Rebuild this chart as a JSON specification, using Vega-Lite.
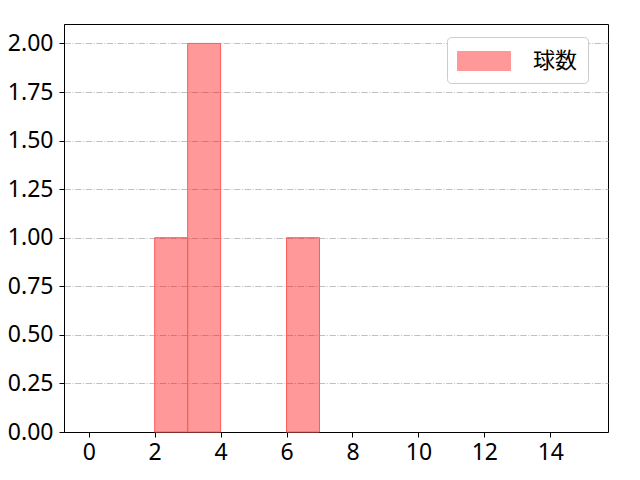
{
  "$schema": "https://vega.github.io/schema/vega-lite/v6.json",
  "width": 544,
  "height": 408,
  "autosize": {"type": "none"},
  "padding": {"left": 64, "top": 24, "right": 32, "bottom": 48},
  "data": {
    "values": [
      {"bin_start": 2, "bin_end": 3, "count": 1, "series": "球数"},
      {"bin_start": 3, "bin_end": 4, "count": 2, "series": "球数"},
      {"bin_start": 6, "bin_end": 7, "count": 1, "series": "球数"}
    ]
  },
  "mark": {
    "type": "rect",
    "fillOpacity": 0.4,
    "strokeOpacity": 1,
    "strokeWidth": 1
  },
  "encoding": {
    "x": {
      "field": "bin_start",
      "type": "quantitative",
      "scale": {"domain": [-0.75, 15.75], "nice": false, "zero": false},
      "axis": {"values": [0, 2, 4, 6, 8, 10, 12, 14], "grid": false, "title": null}
    },
    "x2": {"field": "bin_end"},
    "y": {
      "field": "count",
      "type": "quantitative",
      "scale": {"domain": [0, 2.1], "nice": false},
      "axis": {
        "values": [0, 0.25, 0.5, 0.75, 1, 1.25, 1.5, 1.75, 2],
        "format": ".2f",
        "grid": true,
        "gridColor": "#b0b0b0",
        "gridWidth": 0.8,
        "gridDash": [6.4, 1.6, 1, 1.6],
        "title": null,
        "labelPadding": 6
      }
    },
    "y2": {"datum": 0},
    "stroke": {"value": "#ff5c5c"},
    "fill": {
      "field": "series",
      "type": "nominal",
      "scale": {"domain": ["球数"], "range": ["#ff0000"]},
      "legend": {
        "title": null,
        "orient": "none",
        "legendX": 383,
        "legendY": 13,
        "symbolType": "M-2,-0.717H2V0.717H-2Z",
        "symbolSize": 702,
        "symbolOffset": 13,
        "symbolOpacity": 0.4,
        "symbolStrokeColor": "#ff0000",
        "symbolStrokeWidth": 1,
        "labelFontSize": 22,
        "labelFont": "Noto Sans CJK JP",
        "labelColor": "#000000",
        "labelOffset": 35,
        "fillColor": "#ffffff",
        "strokeColor": "#cccccc",
        "cornerRadius": 4,
        "padding": 10
      }
    }
  },
  "config": {
    "view": {"stroke": "#000000", "strokeWidth": 1},
    "axis": {
      "domainColor": "#000000",
      "tickColor": "#000000",
      "tickSize": 5,
      "labelFont": "Noto Sans",
      "labelFontSize": 23,
      "labelColor": "#000000",
      "labelPadding": 4
    }
  }
}
